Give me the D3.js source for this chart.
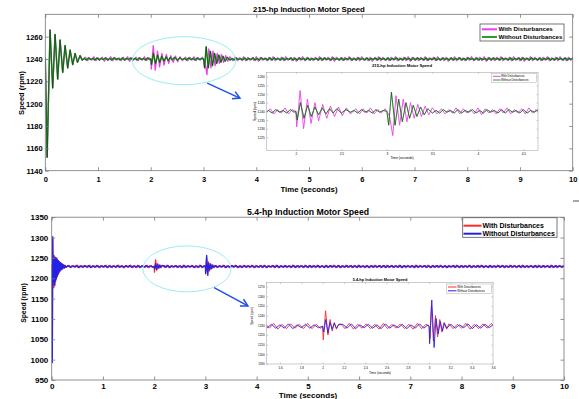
<!DOCTYPE html>
<html>
<head>
<meta charset="utf-8">
<script src="https://cdn.jsdelivr.net/npm/d3@7"></script>
<style>
  body { margin: 0; background: #fff; }
  svg { display: block; }
</style>
</head>
<body>
<svg id="chart" width="579" height="399"></svg>
<script>
const FONT = "'Liberation Sans', Arial, sans-serif";
const RIPPLE_STEP = 0.04;

// ---------- 215-hp motor (seconds, rpm) ----------
const time215Start = [0, 0.035, 0.09, 0.14, 0.185, 0.235, 0.28, 0.33, 0.375, 0.425, 0.47, 0.52, 0.565, 0.61, 0.66, 0.70];
const speed215Start = [1241, 1152, 1266, 1214, 1262, 1222, 1257, 1228, 1252, 1232, 1248, 1235, 1245, 1237, 1243, 1239];

const time215WithD1 = [2.0, 2.01, 2.047, 2.085, 2.127, 2.167, 2.21, 2.25, 2.295, 2.34, 2.38, 2.425, 2.47, 2.51, 2.555, 2.6];
const speed215WithD1 = [1240, 1231, 1252, 1230, 1247, 1233, 1245, 1234.5, 1244, 1236, 1243, 1237, 1242.5, 1237.5, 1242, 1238.5];
const time215WithD2 = [3.0, 3.03, 3.065, 3.1, 3.14, 3.18, 3.22, 3.26, 3.3, 3.34, 3.38, 3.42, 3.46, 3.5, 3.55];
const speed215WithD2 = [1240, 1237, 1226, 1249, 1232, 1247, 1234, 1245, 1236, 1244, 1237, 1243, 1238, 1242, 1238.5];

const time215NoD1 = [2.0, 2.015, 2.05, 2.09, 2.13, 2.17, 2.21, 2.25, 2.29, 2.33, 2.37, 2.41, 2.45, 2.5, 2.55, 2.6];
const speed215NoD1 = [1240, 1235, 1245, 1236, 1243.5, 1237, 1242.5, 1238, 1242, 1238.5, 1241.5, 1239, 1241.5, 1239, 1241, 1239.5];
const time215NoD2 = [3.0, 3.02, 3.05, 3.09, 3.13, 3.17, 3.21, 3.25, 3.29, 3.33, 3.37, 3.41, 3.45, 3.5];
const speed215NoD2 = [1240, 1232, 1251, 1232, 1247, 1234, 1245, 1236, 1243.5, 1237, 1242.5, 1238, 1241.5, 1239];

// steady ripple between the transients, one value every RIPPLE_STEP from each start
const rippleStart215With = [0.76, 2.66, 3.60];
const ripple215WithA = [1241.5,1238.5,1241,1239,1242,1238.5,1241,1239.5,1241.5,1238,1241,1239,1242,1238.5,1241.5,1239,1241,1238.5,1241.5,1239,
  1242,1238,1241,1239.5,1241.5,1238.5,1241,1239,1242,1238.5,1241];
const ripple215WithB = [1241.5,1238.5,1241.5,1239,1242,1238.5,1241,1239,1241.5];
const ripple215WithC = [1241.5,1238.5,1241,1239,1242,1238.5,1241.5,1239,1241,1238.5,1242,1238,1241.5,1239,1241,1238.5,1241.5,1239,1242,1238.5,
  1241,1239,1241.5,1238.5,1242,1239,1241,1238.5,1241.5,1238,1241,1239,1242,1238.5,1241.5,1239,1241,1238.5,1241.5,1239,
  1242,1238.5,1241,1239,1241.5,1238.5,1242,1238,1241.5,1239,1241,1238.5,1241.5,1239,1242,1238.5,1241,1239,1241.5,1238.5,
  1242,1239,1241,1238.5,1241.5,1238,1241,1239,1242,1238.5,1241.5,1239,1241,1238.5,1241.5,1239,1242,1238.5,1241,1239,
  1241.5,1238.5,1242,1238,1241.5,1239,1241,1238.5,1241.5,1239,1242,1238.5,1241,1239,1241.5,1238.5,1242,1239,1241,1238.5,
  1241.5,1238,1241,1239,1242,1238.5,1241.5,1239,1241,1238.5,1241.5,1239,1242,1238.5,1241,1239,1241.5,1238.5,1242,1238,
  1241.5,1239,1241,1238.5,1241.5,1239,1242,1238.5,1241,1239,1241.5,1238.5,1242,1239,1241,1238.5,1241.5,1238,1241,1239,
  1242,1238.5,1241.5,1239,1241,1238.5,1241.5,1239,1242,1238.5,1241,1239,1241.5,1238.5,1242,1239,1241,1238.5,1241.5,1239,
  1241.5,1239];

const rippleStart215No = [0.74, 2.64, 3.54];
const ripple215NoA = [1240.5,1239,1241,1239.5,1240.5,1239,1241,1239,1240.5,1239.5,1241,1239,1240.5,1239,1241,1239.5,1240.5,1239,1241,1239,
  1240.5,1239.5,1241,1239,1240.5,1239,1241,1239.5,1240.5,1239,1241,1239.5];
const ripple215NoB = [1240.5,1239,1241,1239.5,1240.5,1239,1241,1239.5,1240.5];
const ripple215NoC = [1240.5,1239,1241,1239.5,1240.5,1239,1241,1239,1240.5,1239.5,1241,1239,1240.5,1239,1241,1239.5,1240.5,1239,1241,1239,
  1241,1239.5,1240.5,1239,1241,1239,1240.5,1239.5,1241,1239,1240.5,1239,1241,1239.5,1240.5,1239,1241,1239,1240.5,1239.5,
  1240.5,1239,1241,1239,1241,1239.5,1240.5,1239,1241,1239.5,1240.5,1239,1241,1239,1240.5,1239.5,1241,1239,1240.5,1239,
  1241,1239.5,1240.5,1239,1241,1239,1240.5,1239.5,1241,1239,1241,1239.5,1240.5,1239,1241,1239,1240.5,1239.5,1241,1239,
  1240.5,1239,1241,1239.5,1240.5,1239,1241,1239,1241,1239.5,1240.5,1239,1241,1239,1240.5,1239.5,1241,1239,1240.5,1239,
  1241,1239.5,1240.5,1239,1241,1239,1240.5,1239.5,1241,1239,1240.5,1239,1241,1239.5,1240.5,1239,1241,1239,1240.5,1239.5,
  1240.5,1239,1241,1239,1241,1239.5,1240.5,1239,1241,1239.5,1240.5,1239,1241,1239,1240.5,1239.5,1241,1239,1241,1239.5,
  1240.5,1239,1241,1239.5,1240.5,1239,1241,1239,1240.5,1239.5,1241,1239,1240.5,1239,1241,1239.5,1240.5,1239,1241,1239,
  1240.5,1239.5,1241,1239.5];

// ---------- 5.4-hp motor ----------
const time54Start = [0, 0.006, 0.012, 0.02, 0.028, 0.036, 0.044, 0.052, 0.06, 0.068, 0.076, 0.084, 0.092, 0.1, 0.108, 0.116,
  0.124, 0.132, 0.14, 0.15, 0.16, 0.17, 0.18, 0.19, 0.2, 0.21, 0.22, 0.235, 0.25, 0.265, 0.28];
const speed54NoStart = [1235, 1120, 993, 1302, 1185, 1250, 1190, 1248, 1182, 1252, 1195, 1246, 1200, 1250, 1205, 1244,
  1210, 1242, 1214, 1240, 1218, 1238, 1221, 1236, 1223, 1234, 1224, 1233, 1226, 1231, 1227];
const speed54WithStart = [1235, 1118, 995, 1298, 1176, 1257, 1178, 1255, 1185, 1250, 1192, 1248, 1198, 1247, 1204, 1245,
  1209, 1243, 1213, 1241, 1217, 1239, 1220, 1237, 1222, 1235, 1224, 1233, 1225, 1231.5, 1227];

const time54WithD1 = [2.0, 2.006, 2.028, 2.05, 2.07, 2.09, 2.11, 2.13, 2.15];
const speed54WithD1 = [1229, 1215, 1245, 1220, 1236, 1224, 1233, 1226, 1231];
const time54WithD2 = [3.0, 3.008, 3.022, 3.04, 3.06, 3.08, 3.1, 3.12, 3.14, 3.165];
const speed54WithD2 = [1229, 1216, 1250, 1214, 1240, 1218, 1236, 1223, 1233, 1226];

const time54NoD1 = [2.0, 2.01, 2.03, 2.05, 2.07, 2.09, 2.11, 2.13, 2.15];
const speed54NoD1 = [1229, 1223, 1236, 1222, 1233, 1226, 1232, 1227, 1230.5];
const time54NoD2 = [3.0, 3.005, 3.025, 3.047, 3.065, 3.085, 3.105, 3.125, 3.145, 3.165];
const speed54NoD2 = [1229, 1211, 1256, 1207, 1237, 1221, 1234, 1224, 1232, 1227];

const rippleStart54No = [0.32, 2.19, 3.205];
const ripple54NoA = [1231,1227,1230.5,1227.5,1231.5,1226.5,1230.5,1227,1231,1227.5,1231,1226.5,1230.5,1227,1231.5,1227,1230.5,1227.5,1231,1226.5,
  1231,1227,1230.5,1227.5,1231.5,1227,1230.5,1226.5,1231,1227.5,1231,1227,1230.5,1227,1231.5,1226.5,1230.5,1227.5,1231,1227,
  1230.5,1227.5];
const ripple54NoB = [1231,1227,1231.5,1226.5,1230.5,1227.5,1231,1227,1230.5,1226.5,1231.5,1227,1230.5,1227.5,1231,1226.5,1230.5,1227,1231.5,1227,1230.5];
const ripple54NoC = [1231,1227,1230.5,1227.5,1231.5,1226.5,1230.5,1227,1231,1227.5,1231,1226.5,1230.5,1227,1231.5,1227,1230.5,1227.5,1231,1226.5,
  1230.5,1227,1231.5,1227,1231,1226.5,1230.5,1227.5,1231,1227,1231.5,1226.5,1230.5,1227,1231,1227.5,1230.5,1227,1231.5,1226.5,
  1231,1227.5,1230.5,1227,1231,1226.5,1231.5,1227,1230.5,1227.5,1231,1227,1230.5,1226.5,1231.5,1227,1231,1227.5,1230.5,1227,
  1231.5,1226.5,1230.5,1227,1231,1227.5,1231,1227,1230.5,1226.5,1231.5,1227.5,1230.5,1227,1231,1226.5,1231,1227,1230.5,1227.5,
  1231,1227,1231.5,1226.5,1230.5,1227.5,1231,1227,1230.5,1227,1231.5,1226.5,1231,1227.5,1230.5,1227,1231,1226.5,1231.5,1227,
  1230.5,1227.5,1231,1227,1230.5,1226.5,1231.5,1227,1231,1227.5,1230.5,1227,1231,1226.5,1230.5,1227.5,1231.5,1227,1231,1226.5,
  1231,1227,1230.5,1227.5,1231.5,1226.5,1230.5,1227,1231,1227.5,1231,1227,1230.5,1226.5,1231.5,1227,1230.5,1227.5,1231,1227,
  1231.5,1226.5,1230.5,1227,1231,1227.5,1230.5,1227,1231.5,1226.5,1231,1227,1230.5,1227.5,1231,1226.5,1231.5,1227,1230.5,1227,
  1231,1227.5,1230.5,1226.5,1231.5,1227,1231,1227.5,1230.5,1227,1231];

const rippleStart54With = [0.34, 2.17, 3.185];
const ripple54WithA = [1231.5,1226.5,1231,1227,1232,1226,1231,1227,1231.5,1226.5,1232,1226.5,1231,1227,1231.5,1226,1231,1227,1232,1226.5,
  1231.5,1226.5,1231,1226,1232,1227,1231,1226.5,1231.5,1227,1232,1226,1231,1226.5,1231.5,1227,1231,1226.5,1232,1226.5,
  1231,1227];
const ripple54WithB = [1231.5,1226.5,1232,1226,1231,1227,1231.5,1226.5,1231,1226,1232,1226.5,1231,1227,1231.5,1226.5,1231,1226,1232,1226.5,1231];
const ripple54WithC = [1231.5,1226.5,1231,1227,1232,1226,1231,1226.5,1231.5,1227,1232,1226.5,1231,1226,1231.5,1227,1231,1226.5,1232,1226,
  1231.5,1227,1231,1226.5,1232,1226.5,1231,1227,1231.5,1226,1232,1226.5,1231,1227,1231.5,1226.5,1231,1226,1232,1227,
  1231,1226.5,1231.5,1226,1232,1227,1231,1226.5,1231.5,1226.5,1232,1226,1231,1227,1231.5,1226.5,1231,1227,1232,1226,
  1231.5,1226.5,1231,1227,1232,1226.5,1231,1226,1231.5,1227,1232,1226.5,1231,1226.5,1231.5,1226,1231,1227,1232,1226.5,
  1231.5,1226,1231,1227,1232,1226.5,1231.5,1226.5,1231,1227,1232,1226,1231,1226.5,1231.5,1227,1231,1226.5,1232,1226,
  1231.5,1227,1231,1226.5,1232,1226,1231,1227,1231.5,1226.5,1232,1226.5,1231,1226,1231.5,1227,1231,1226.5,1232,1227,
  1231,1226.5,1231.5,1226,1232,1226.5,1231,1227,1231.5,1226.5,1232,1226,1231,1227,1231.5,1226.5,1231,1226,1232,1226.5,
  1231.5,1227,1231,1226.5,1232,1226,1231.5,1226.5,1231,1227,1232,1226.5,1231,1226,1231.5,1227,1231,1226.5,1232,1226,
  1231.5,1226.5,1231,1227,1232,1226.5,1231,1226,1231.5,1227,1231];

// ---------- ticks, labels ----------
const xTicksMain = [0, 1, 2, 3, 4, 5, 6, 7, 8, 9, 10];
const yTicks215 = [1140, 1160, 1180, 1200, 1220, 1240, 1260];
const yTicks54 = [950, 1000, 1050, 1100, 1150, 1200, 1250, 1300, 1350];
const xTicksInset215 = [2, 2.5, 3, 3.5, 4, 4.5];
const yTicksInset215 = [1225, 1230, 1235, 1240, 1245, 1250, 1255, 1260];
const xTicksInset54 = [1.6, 1.8, 2, 2.2, 2.4, 2.6, 2.8, 3, 3.2, 3.4, 3.6];
const yTicksInset54 = [1190, 1200, 1210, 1220, 1230, 1240, 1250, 1260, 1270];
const legendLabels = ["With Disturbances", "Without Disturbances"];

// ---------- helpers ----------
function buildSeries(pieces, starts, ripples) {
  const pts = [];
  pieces.forEach(([ts, vs]) => ts.forEach((t, i) => pts.push([t, vs[i]])));
  ripples.forEach((vs, k) => vs.forEach((v, i) => pts.push([starts[k] + i * RIPPLE_STEP, v])));
  return pts.sort((a, b) => a[0] - b[0]);
}

const s215With = buildSeries([[time215Start, speed215Start], [time215WithD1, speed215WithD1], [time215WithD2, speed215WithD2]],
  rippleStart215With, [ripple215WithA, ripple215WithB, ripple215WithC]);
const s215No = buildSeries([[time215Start, speed215Start], [time215NoD1, speed215NoD1], [time215NoD2, speed215NoD2]],
  rippleStart215No, [ripple215NoA, ripple215NoB, ripple215NoC]);
const s54With = buildSeries([[time54Start, speed54WithStart], [time54WithD1, speed54WithD1], [time54WithD2, speed54WithD2]],
  rippleStart54With, [ripple54WithA, ripple54WithB, ripple54WithC]);
const s54No = buildSeries([[time54Start, speed54NoStart], [time54NoD1, speed54NoD1], [time54NoD2, speed54NoD2]],
  rippleStart54No, [ripple54NoA, ripple54NoB, ripple54NoC]);

const svg = d3.select("#chart").attr("font-family", FONT);
let clipId = 0;

function frame(g, x, y, o) {
  const [xl, xr] = x.range(), [yb, yt] = y.range();
  const styleAxis = s => {
    s.attr("font-family", FONT).attr("font-size", o.font).attr("font-weight", o.weight);
    s.select(".domain").remove();
    s.selectAll("line").attr("stroke", o.stroke).attr("stroke-width", o.sw);
    s.selectAll("text").attr("fill", "#000");
  };
  g.append("g").attr("transform", `translate(0,${yb})`)
    .call(d3.axisBottom(x).tickValues(o.xTicks).tickFormat(o.xFmt || d3.format("")).tickSizeInner(-o.tick).tickSizeOuter(0).tickPadding(o.xPad))
    .call(styleAxis);
  g.append("g").attr("transform", `translate(0,${yt})`)
    .call(d3.axisTop(x).tickValues(o.xTicks).tickFormat("").tickSizeInner(-o.tick).tickSizeOuter(0))
    .call(styleAxis);
  g.append("g").attr("transform", `translate(${xl},0)`)
    .call(d3.axisLeft(y).tickValues(o.yTicks).tickFormat(d3.format("")).tickSizeInner(-o.tick).tickSizeOuter(0).tickPadding(o.yPad))
    .call(styleAxis);
  g.append("g").attr("transform", `translate(${xr},0)`)
    .call(d3.axisRight(y).tickValues(o.yTicks).tickFormat("").tickSizeInner(-o.tick).tickSizeOuter(0))
    .call(styleAxis);
  g.append("rect").attr("x", xl).attr("y", yt).attr("width", xr - xl).attr("height", yb - yt)
    .attr("fill", "none").attr("stroke", o.stroke).attr("stroke-width", o.sw);
}

function drawLines(g, x, y, list) {
  const [xl, xr] = x.range(), [yb, yt] = y.range();
  const id = "clip" + (clipId++);
  g.append("clipPath").attr("id", id).append("rect")
    .attr("x", xl).attr("y", yt).attr("width", xr - xl).attr("height", yb - yt);
  const line = d3.line().x(d => x(d[0])).y(d => y(d[1]));
  const lg = g.append("g").attr("clip-path", `url(#${id})`);
  list.forEach(l => {
    lg.append("path").datum(l.data).attr("d", line).attr("fill", "none")
      .attr("stroke", l.color).attr("stroke-width", l.width).attr("stroke-opacity", l.opacity || 1)
      .attr("stroke-linejoin", "round");
  });
}

function legend(g, o) {
  g.append("rect").attr("x", o.x).attr("y", o.y).attr("width", o.w).attr("height", o.h)
    .attr("fill", "#fff").attr("stroke", o.stroke).attr("stroke-width", o.sw);
  legendLabels.forEach((lab, i) => {
    const yy = o.rows[i];
    g.append("line").attr("x1", o.lx1).attr("x2", o.lx2).attr("y1", yy).attr("y2", yy)
      .attr("stroke", o.colors[i]).attr("stroke-width", o.lw);
    g.append("text").attr("x", o.tx).attr("y", yy).attr("dy", "0.35em")
      .attr("font-size", o.font).attr("font-weight", o.weight).text(lab);
  });
}

function annotate(g, x, y, ell, arrow) {
  g.append("ellipse")
    .attr("cx", x(ell.t)).attr("cy", y(ell.v))
    .attr("rx", x(ell.t + ell.dt) - x(ell.t)).attr("ry", y(ell.v) - y(ell.v + ell.dv))
    .attr("fill", "none").attr("stroke", "#8ee9f2").attr("stroke-width", 0.9);
  const x1 = x(arrow[0]), y1 = y(arrow[1]), x2 = x(arrow[2]), y2 = y(arrow[3]);
  const ang = Math.atan2(y2 - y1, x2 - x1), h = 8;
  g.append("line").attr("x1", x1).attr("y1", y1).attr("x2", x2).attr("y2", y2)
    .attr("stroke", "#1f4fe8").attr("stroke-width", 1.5);
  g.append("path")
    .attr("d", `M${x2 - h * Math.cos(ang - 0.5)},${y2 - h * Math.sin(ang - 0.5)}L${x2},${y2}L${x2 - h * Math.cos(ang + 0.5)},${y2 - h * Math.sin(ang + 0.5)}`)
    .attr("fill", "none").attr("stroke", "#1f4fe8").attr("stroke-width", 1.5);
}

// ================= 215-hp panel =================
const x215 = d3.scaleLinear().domain([0, 10]).range([45.3, 572.7]);
const y215 = d3.scaleLinear().domain([1140, 1280]).range([170.7, 14.3]);
const panel215 = svg.append("g");

drawLines(panel215, x215, y215, [
  { data: s215With, color: "#f03cf0", width: 1.3 },
  { data: s215No, color: "#28a028", width: 1.5 },
  { data: s215No, color: "#111", width: 0.55, opacity: 0.8 }
]);
frame(panel215, x215, y215, { xTicks: xTicksMain, yTicks: yTicks215, tick: 3.5, font: 7.5, weight: "bold",
  stroke: "#777", sw: 0.8, xPad: 5.5, yPad: 2.6 });
panel215.append("text").attr("x", 309).attr("y", 11.8).attr("text-anchor", "middle")
  .attr("font-size", 7.8).attr("font-weight", "bold").text("215-hp Induction Motor Speed");
panel215.append("text").attr("x", 309).attr("y", 192).attr("text-anchor", "middle")
  .attr("font-size", 7.8).attr("font-weight", "bold").text("Time (seconds)");
panel215.append("text").attr("transform", "translate(24.4,93) rotate(-90)").attr("text-anchor", "middle")
  .attr("font-size", 7.5).attr("font-weight", "bold").text("Speed (rpm)");
legend(panel215, { x: 480, y: 24, w: 84, h: 17, stroke: "#555", sw: 0.8, rows: [29.3, 37], lx1: 482, lx2: 497, tx: 498.5,
  colors: ["#f03cf0", "#28a028"], lw: 2, font: 6.2, weight: "bold" });
annotate(panel215, x215, y215, { t: 2.63, v: 1238.5, dt: 0.98, dv: 21.5 }, [3.07, 1218.4, 3.69, 1205]);

// inset 215
const inset215 = svg.append("g");
inset215.append("rect").attr("x", 254).attr("y", 62).attr("width", 292).attr("height", 101).attr("fill", "#fff");
const xi215 = d3.scaleLinear().domain([1.68, 4.66]).range([266.7, 538]);
const yi215 = d3.scaleLinear().domain([1217.3, 1262.5]).range([150.7, 72.3]);
drawLines(inset215, xi215, yi215, [
  { data: s215With, color: "#f03cf0", width: 0.9 },
  { data: s215No, color: "#28a028", width: 0.9 },
  { data: s215No, color: "#222", width: 0.45, opacity: 0.85 }
]);
frame(inset215, xi215, yi215, { xTicks: xTicksInset215, yTicks: yTicksInset215, tick: 1.5, font: 3.2, weight: "normal",
  stroke: "#999", sw: 0.5, xPad: 2, yPad: 2 });
inset215.append("text").attr("x", 402).attr("y", 67.4).attr("text-anchor", "middle")
  .attr("font-size", 4.2).attr("font-weight", "bold").text("215-hp Induction Motor Speed");
inset215.append("text").attr("x", 402).attr("y", 159.4).attr("text-anchor", "middle")
  .attr("font-size", 3.4).text("Time (seconds)");
inset215.append("text").attr("transform", "translate(256.4,111.5) rotate(-90)").attr("text-anchor", "middle")
  .attr("font-size", 3.4).text("Speed (rpm)");
legend(inset215, { x: 491.7, y: 73.3, w: 45, h: 9.4, stroke: "#999", sw: 0.4, rows: [76.3, 80], lx1: 493, lx2: 500.5, tx: 501,
  colors: ["#f03cf0", "#28a028"], lw: 1, font: 2.9, weight: "normal" });

// ================= 5.4-hp panel =================
const x54 = d3.scaleLinear().domain([0, 10]).range([51.7, 564]);
const y54 = d3.scaleLinear().domain([950, 1350]).range([380, 217.2]);
const panel54 = svg.append("g");

drawLines(panel54, x54, y54, [
  { data: s54With, color: "#ff2a2a", width: 1.3 },
  { data: s54No, color: "#2222e8", width: 1.3 }
]);
frame(panel54, x54, y54, { xTicks: xTicksMain, yTicks: yTicks54, tick: 3.5, font: 8, weight: "bold",
  stroke: "#777", sw: 0.8, xPad: 3.4, yPad: 3.4 });
panel54.append("text").attr("x", 308).attr("y", 214.8).attr("text-anchor", "middle")
  .attr("font-size", 8.7).attr("font-weight", "bold").text("5.4-hp Induction Motor Speed");
panel54.append("text").attr("x", 308).attr("y", 397.8).attr("text-anchor", "middle")
  .attr("font-size", 8).attr("font-weight", "bold").text("Time (seconds)");
panel54.append("text").attr("transform", "translate(26.4,303) rotate(-90)").attr("text-anchor", "middle")
  .attr("font-size", 6.8).attr("font-weight", "bold").text("Speed (rpm)");
legend(panel54, { x: 462.7, y: 217.7, w: 94.3, h: 19.6, stroke: "#555", sw: 0.8, rows: [225.7, 233.7], lx1: 463.5, lx2: 481.5, tx: 482.5,
  colors: ["#ff2a2a", "#2222e8"], lw: 2, font: 7, weight: "bold" });
annotate(panel54, x54, y54, { t: 2.64, v: 1223, dt: 0.86, dv: 56.5 }, [3.17, 1176.8, 3.83, 1132]);

// inset 5.4
const inset54 = svg.append("g");
inset54.append("rect").attr("x", 250).attr("y", 274).attr("width", 250).attr("height", 102).attr("fill", "#fff");
const xi54 = d3.scaleLinear().domain([1.475, 3.6]).range([266.7, 493]);
const yi54 = d3.scaleLinear().domain([1190, 1274]).range([364, 282.7]);
drawLines(inset54, xi54, yi54, [
  { data: s54With, color: "#ff2a2a", width: 0.9 },
  { data: s54No, color: "#2222e8", width: 0.9 }
]);
frame(inset54, xi54, yi54, { xTicks: xTicksInset54, yTicks: yTicksInset54, tick: 1.5, font: 3, weight: "normal",
  stroke: "#999", sw: 0.5, xPad: 2.4, yPad: 2, xFmt: d3.format("") });
inset54.append("text").attr("x", 380).attr("y", 281.2).attr("text-anchor", "middle")
  .attr("font-size", 3.9).attr("font-weight", "bold").text("5.4-hp Induction Motor Speed");
inset54.append("text").attr("x", 380).attr("y", 374.4).attr("text-anchor", "middle")
  .attr("font-size", 3.2).text("Time (seconds)");
inset54.append("text").attr("transform", "translate(253,316) rotate(-90)").attr("text-anchor", "middle")
  .attr("font-size", 3.2).text("Speed (rpm)");
legend(inset54, { x: 446.7, y: 284, w: 45, h: 9.3, stroke: "#999", sw: 0.4, rows: [287, 290.8], lx1: 448, lx2: 456.5, tx: 457.3,
  colors: ["#ff2a2a", "#2222e8"], lw: 1, font: 2.9, weight: "normal" });

// stray dash at the right edge
svg.append("line").attr("x1", 573).attr("x2", 579.5).attr("y1", 201).attr("y2", 201)
  .attr("stroke", "#222").attr("stroke-width", 0.8);
</script>
</body>
</html>
